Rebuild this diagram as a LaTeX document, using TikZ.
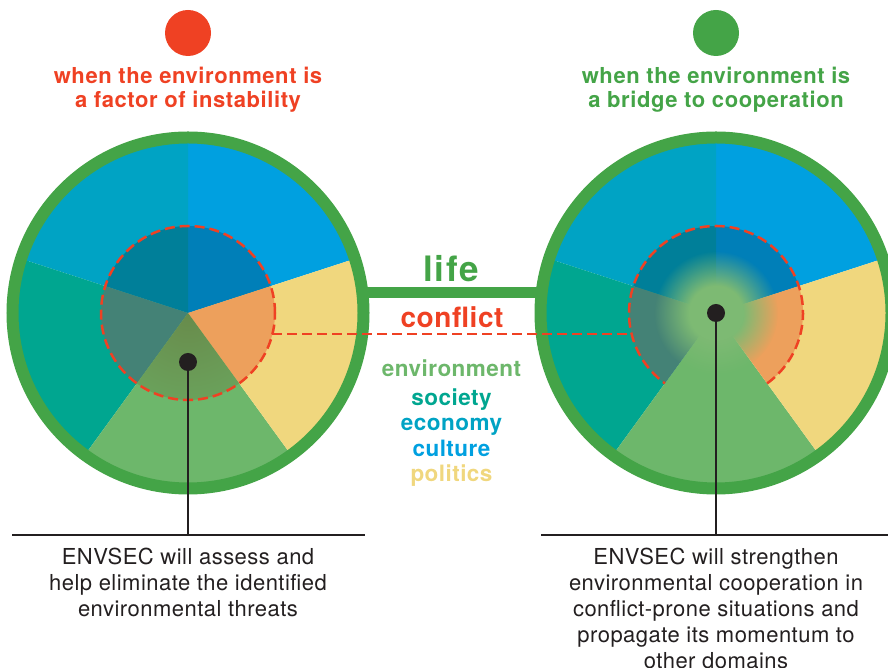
\documentclass[tikz,border=0pt]{standalone}
\usepackage{fontspec}
\setmainfont{TeX Gyre Heros}
\usetikzlibrary{fadings}

\definecolor{alertred}{HTML}{EF4123}
\definecolor{ringgreen}{HTML}{44A447}
\definecolor{skyblue}{HTML}{00A0E0}
\definecolor{tealblue}{HTML}{00A3C4}
\definecolor{seateal}{HTML}{00A690}
\definecolor{leafgreen}{HTML}{6DB76B}
\definecolor{sandyellow}{HTML}{F0D77E}
\definecolor{deepblue}{HTML}{007FB8}
\definecolor{deepteal}{HTML}{007F99}
\definecolor{greyteal}{HTML}{448276}
\definecolor{olivegreen}{HTML}{688B4B}
\definecolor{warmorange}{HTML}{EDA05C}
\definecolor{glowgreen}{HTML}{7DBA73}
\definecolor{inkgrey}{HTML}{231F20}

\pgfdeclareradialshading{glowshade}{\pgfpointorigin}{%
  color(0bp)=(pgftransparent!0); color(11bp)=(pgftransparent!0);
  color(25bp)=(pgftransparent!100); color(50bp)=(pgftransparent!100)}
\pgfdeclarefading{glowfade}{\pgfuseshading{glowshade}}

\tikzset{
  heading/.style={font=\fontsize{22}{24}\selectfont\bfseries\addfontfeatures{LetterSpace=2.6}, align=center},
  keyword/.style={font=\fontsize{22.5}{24}\selectfont\bfseries\addfontfeatures{LetterSpace=2}, anchor=base},
  note/.style={font=\fontsize{22}{26.2}\selectfont\addfontfeatures{LetterSpace=2.2}, align=center, text=inkgrey, anchor=north, inner sep=0pt},
  sign/.style={circle, inner sep=0pt, minimum size=46pt},
  hub/.style={circle, fill=inkgrey, inner sep=0pt, minimum size=18pt},
  conflictline/.style={alertred, line width=2.5pt, dash pattern=on 10pt off 5pt},
}

\begin{document}
\begin{tikzpicture}[x=1pt,y=1pt]
\useasboundingbox (0,0) rectangle (888,668);
\coordinate (leftc) at (188,355);
\coordinate (rightc) at (716,355);
%
% life bar
\coordinate (lifeA) at (188,375.5);
\coordinate (lifeB) at (716,375.5);
\draw[ringgreen, line width=11pt] (lifeA) -- (lifeB);
%
% left wheel
\foreach \a/\col in {18/skyblue,90/tealblue,162/seateal,234/leafgreen,306/sandyellow}
  \fill[\col] (leftc) -- ++(\a:176) arc[start angle=\a, end angle=\a+72, radius=176] -- cycle;
\foreach \a/\col in {18/deepblue,90/deepteal,162/greyteal,306/warmorange}
  \fill[\col] (leftc) -- ++(\a:87) arc[start angle=\a, end angle=\a+72, radius=87] -- cycle;
\begin{scope}
  \clip (leftc) -- ++(234:87) arc[start angle=234, end angle=306, radius=87] -- cycle;
  \shade[inner color=olivegreen, outer color=leafgreen] (leftc) circle (174);
\end{scope}
\draw[conflictline] (leftc) circle (87);
\draw[ringgreen, line width=12pt] (leftc) circle (175.5);
%
% right wheel
\foreach \a/\col in {18/skyblue,90/tealblue,162/seateal,234/leafgreen,306/sandyellow}
  \fill[\col] (rightc) -- ++(\a:176) arc[start angle=\a, end angle=\a+72, radius=176] -- cycle;
\foreach \a/\col in {18/deepblue,90/deepteal,162/greyteal,306/warmorange}
  \fill[\col] (rightc) -- ++(\a:87) arc[start angle=\a, end angle=\a+72, radius=87] -- cycle;
\fill[glowgreen, path fading=glowfade] (rightc) circle (62);
\draw[conflictline] (rightc) ++(-54:87) arc[start angle=-54, end angle=234, radius=87];
\draw[ringgreen, line width=12pt] (rightc) circle (175.5);
%
% conflict line
\path (leftc) ++(-14:87) coordinate (confA);
\path (rightc) ++(194:87) coordinate (confB);
\draw[conflictline] (confA) -- (confB);
%
% signs and headings
\node[sign, fill=alertred] (redsign) at (188,635) {};
\node[heading, text=alertred] (unstable) at (188,578.5) {when the environment is\\a factor of instability};
\node[sign, fill=ringgreen] (greensign) at (716,635) {};
\node[heading, text=ringgreen] (bridge) at (716,578.5) {when the environment is\\a bridge to cooperation};
%
% middle labels
\node[keyword, text=ringgreen, font=\fontsize{35}{36}\selectfont\bfseries\addfontfeatures{LetterSpace=5}] (life) at (451,386) {life};
\node[keyword, text=alertred, font=\fontsize{28}{30}\selectfont\bfseries\addfontfeatures{LetterSpace=2}] (conflict) at (452,340) {conflict};
\node[keyword, text=leafgreen] (environment) at (451.5,291) {environment};
\node[keyword, text=seateal] (society) at (451.5,262) {society};
\node[keyword, text=tealblue] (economy) at (451.5,237) {economy};
\node[keyword, text=skyblue] (culture) at (451.5,211) {culture};
\node[keyword, text=sandyellow] (politics) at (451.5,186) {politics};
%
% leaders
\node[hub] (hubA) at (188,306) {};
\node[hub] (hubB) at (rightc) {};
\coordinate (footA) at (188,133);
\coordinate (footB) at (716,133);
\coordinate (ruleA1) at (12,133);
\coordinate (ruleA2) at (365,133);
\coordinate (ruleB1) at (541,133);
\coordinate (ruleB2) at (888,133);
\draw[inkgrey, line width=2.5pt] (hubA) -- (footA);
\draw[inkgrey, line width=2.5pt] (hubB) -- (footB);
\draw[inkgrey, line width=1.2pt] (ruleA1) -- (ruleA2);
\draw[inkgrey, line width=1.2pt] (ruleB1) -- (ruleB2);
%
% notes
\node[note] (assess) at (188,120.5) {ENVSEC will assess and\\help eliminate the identified\\environmental threats};
\node[note] (strengthen) at (716,120.5) {ENVSEC will strengthen\\environmental cooperation in\\conflict-prone situations and\\propagate its momentum to\\other domains};
\end{tikzpicture}
\end{document}
